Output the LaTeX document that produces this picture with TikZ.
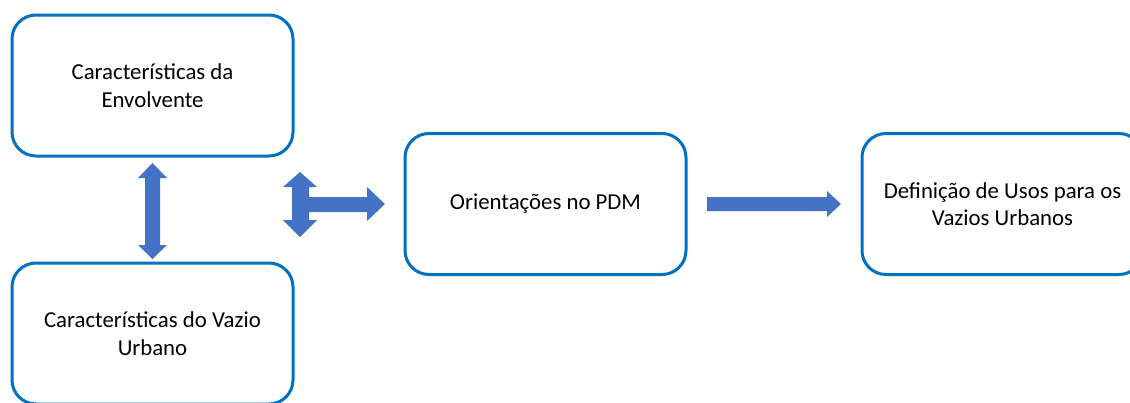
\documentclass[tikz,border=0pt]{standalone}
\usepackage{fontspec}
\setmainfont{Carlito}
\definecolor{boxblue}{HTML}{0070C0}
\definecolor{arrowblue}{HTML}{4472C4}
\begin{document}
\begin{tikzpicture}[x=1pt,y=-1pt,
  box/.style={draw=boxblue, line width=3pt, rounded corners=24pt, fill=white,
    minimum width=281pt, minimum height=141pt, inner sep=0pt, align=center,
    font=\fontsize{22.8}{27.5}\selectfont},
  blockarrow/.style={fill=arrowblue, draw=none}]
\useasboundingbox (0,0) rectangle (1130,402);
\node[box] (env) at (152.5,85.5) {Características da\\Envolvente};
\node[box] (vazio) at (152.5,333.5) {Características do Vazio\\Urbano};
\node[box] (pdm) at (545.5,204) {Orientações no PDM};
\node[box] (usos) at (1002.5,204) {Definição de Usos para os\\Vazios Urbanos};
% vertical double arrow between env and vazio
\fill[blockarrow] (152.5,163) -- (167,178) -- (160,178) -- (160,245) -- (167,245)
  -- (152.5,259) -- (138,245) -- (145,245) -- (145,178) -- (138,178) -- cycle;
% three-way arrow towards pdm
\fill[blockarrow] (300,172) -- (317,187) -- (309,187) -- (309,197) -- (367,197)
  -- (367,187) -- (385,204) -- (367,221) -- (367,212) -- (309,212) -- (309,220)
  -- (317,220) -- (300,237) -- (283,220) -- (292,220) -- (292,187) -- (283,187) -- cycle;
% arrow pdm -> usos
\fill[blockarrow] (707,197) -- (827,197) -- (827,191) -- (841,204) -- (827,217)
  -- (827,211) -- (707,211) -- cycle;
\end{tikzpicture}
\end{document}
